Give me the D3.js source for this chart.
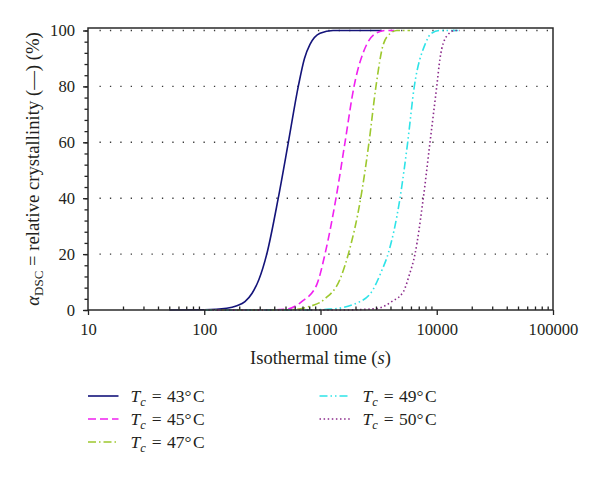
<!DOCTYPE html>
<html>
<head>
<meta charset="utf-8">
<script src="https://cdn.jsdelivr.net/npm/d3@7"></script>
<style>
  body { margin: 0; background: #fff; }
  svg { display: block; background: #fff; }
  text { font-family: "Liberation Serif", "Times New Roman", serif; fill: #231f20; }
</style>
</head>
<body>
<svg id="chart" width="600" height="478"></svg>
<script>
// ---- data ----
const seriesNames = ["43", "45", "47", "49", "50"];
const t43 = [50, 100, 156, 191, 224, 258, 296, 345, 433, 529, 644, 728, 812, 991, 1282, 2000, 3350];
const a43 = [0, 0.1, 0.6, 1.5, 3, 6, 11, 20, 40, 60, 80, 90, 95, 99, 100, 100, 100];
const t45 = [100, 300, 512, 689, 927, 1093, 1359, 1625, 1943, 2497, 3000, 3656, 4300];
const a45 = [0, 0, 0.3, 3, 9, 20, 40, 60, 80, 95, 99, 100, 100];
const t47 = [100, 400, 620, 761, 1093, 1472, 1735, 2218, 2614, 3000, 3467, 4000, 4548, 5888];
const a47 = [0, 0, 0.2, 1, 4, 11, 20, 40, 60, 80, 95, 99, 100, 100];
const t49 = [100, 700, 1208, 2188, 2755, 3357, 3809, 4830, 5623, 6412, 7925, 9000, 10670, 15310];
const a49 = [0, 0, 0.3, 3, 6.5, 14, 20, 40, 60, 80, 95, 99, 100, 100];
const t50 = [100, 1500, 3043, 4093, 5152, 5804, 6500, 7660, 8750, 10000, 10670, 12190, 14360, 15850];
const a50 = [0, 0, 0.5, 3, 6.5, 12.5, 20, 40, 60, 80, 90, 98, 100, 100];
const xTickValues = [10, 100, 1000, 10000, 100000];
const yTickValues = [0, 20, 40, 60, 80, 100];
const gridValues = [20, 40, 60, 80, 100];

// ---- styles ----
const styles = [
  { color: "#14147a", dash: null },
  { color: "#f021f0", dash: "8,4" },
  { color: "#9dc82e", dash: "8,3,1.5,3" },
  { color: "#2ee3e8", dash: "8,3,1.5,3,1.5,3" },
  { color: "#8a2a8a", dash: "1.5,2.6" }
];
const seriesT = [t43, t45, t47, t49, t50];
const seriesA = [a43, a45, a47, a49, a50];

const svg = d3.select("#chart");
const mLeft = 88, mRight = 553, mTop = 30.5, mBottom = 310;

const x = d3.scaleLog().domain([10, 100000]).range([mLeft, mRight]);
const y = d3.scaleLinear().domain([0, 100]).range([mBottom, mTop]);

// grid
svg.append("g").selectAll("line").data(gridValues).join("line")
  .attr("x1", mLeft + 11.5).attr("x2", mRight - 2)
  .attr("y1", d => y(d)).attr("y2", d => y(d))
  .attr("stroke", "#3a3a3a").attr("stroke-width", 1.4)
  .attr("stroke-dasharray", "1.3,9.1");

// curves
const line = d3.line().x(d => x(d[0])).y(d => y(d[1])).curve(d3.curveMonotoneX);
seriesT.forEach((ts, i) => {
  const pts = ts.map((t, j) => [t, seriesA[i][j]]);
  svg.append("path").datum(pts)
    .attr("d", line)
    .attr("fill", "none")
    .attr("stroke", styles[i].color)
    .attr("stroke-width", 1.6)
    .attr("stroke-dasharray", styles[i].dash);
});

// axes
const xMajor = d3.axisBottom(x).tickValues(xTickValues).tickFormat(d3.format("d"))
  .tickSize(5).tickPadding(8.5).tickSizeOuter(0);
const minorX = [];
for (let k = 10; k < 100000; k *= 10) for (let m = 2; m <= 9; m++) minorX.push(k * m);
const xMinor = d3.axisBottom(x).tickValues(minorX).tickFormat("").tickSize(-3.5).tickSizeOuter(0);
const yMajor = d3.axisLeft(y).tickValues(yTickValues).tickSize(5).tickPadding(8).tickSizeOuter(0);
const yMinor = d3.axisLeft(y).tickValues(d3.range(0, 101, 4)).tickFormat("").tickSize(3.5).tickSizeOuter(0);

function styleAxis(g) {
  g.select(".domain").remove();
  g.selectAll("line").attr("stroke", "#222").attr("stroke-width", 1.3);
  g.selectAll("text").attr("font-size", 16.6).attr("fill", "#231f20")
    .attr("font-family", "'Liberation Serif', serif");
}
svg.append("g").attr("transform", `translate(0,${mBottom})`).call(xMinor).call(styleAxis);
svg.append("g").attr("transform", `translate(0,${mBottom})`).call(xMajor).call(styleAxis);
svg.append("g").attr("transform", `translate(${mLeft},0)`).call(yMinor).call(styleAxis);
svg.append("g").attr("transform", `translate(${mLeft},0)`).call(yMajor).call(styleAxis);

// frame
svg.append("path")
  .attr("d", `M${mLeft},${mTop - 2.5}H${mRight}V${mBottom}H${mLeft}Z`)
  .attr("fill", "none").attr("stroke", "#2a2a2a").attr("stroke-width", 1.5);

// axis titles
const xt = svg.append("text").attr("x", 320.5).attr("y", 363.5).attr("text-anchor", "middle").attr("font-size", 18.5);
xt.append("tspan").text("Isothermal time (");
xt.append("tspan").attr("font-style", "italic").text("s");
xt.append("tspan").text(")");

const yt = svg.append("text").attr("transform", "translate(38.5,169) rotate(-90)")
  .attr("text-anchor", "middle").attr("font-size", 18.7);
yt.append("tspan").attr("font-style", "italic").text("α");
yt.append("tspan").attr("font-size", 13).attr("dy", 4).text("DSC");
yt.append("tspan").attr("dy", -4).text(" = relative crystallinity (—) (%)");

// legend
const legendPos = [
  { lx: 88, tx: 130.5, y: 396 },
  { lx: 88, tx: 130.5, y: 419 },
  { lx: 88, tx: 130.5, y: 442 },
  { lx: 319.5, tx: 362.5, y: 396 },
  { lx: 319.5, tx: 362.5, y: 419 }
];
seriesNames.forEach((name, i) => {
  const p = legendPos[i];
  svg.append("line").attr("x1", p.lx).attr("x2", p.lx + 30.5)
    .attr("y1", p.y).attr("y2", p.y)
    .attr("stroke", styles[i].color).attr("stroke-width", 1.6)
    .attr("stroke-dasharray", styles[i].dash);
  const t = svg.append("text").attr("x", p.tx).attr("y", p.y + 6).attr("font-size", 17.5);
  t.append("tspan").attr("font-style", "italic").text("T");
  t.append("tspan").attr("font-style", "italic").attr("font-size", 12.5).attr("dy", 4).text("c");
  t.append("tspan").attr("dy", -4).attr("dx", 1.5).text(" = ");
  t.append("tspan").attr("dx", 1).text(`${name}°`);
  t.append("tspan").attr("dx", 1.5).text("C");
});
</script>
</body>
</html>
